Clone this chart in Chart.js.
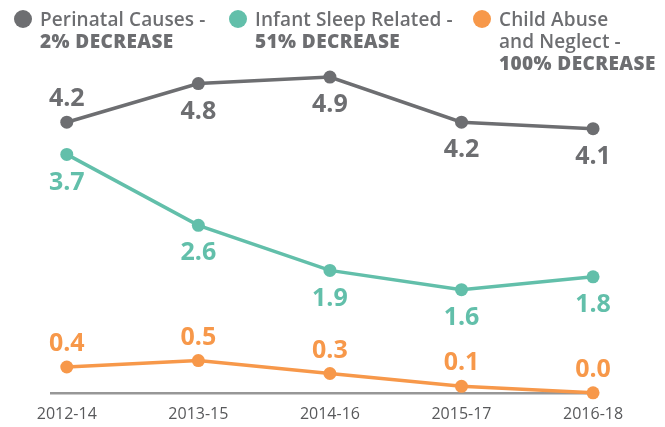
<!DOCTYPE html>
<html>
<head>
<meta charset="utf-8">
<script src="https://cdn.jsdelivr.net/npm/chart.js@4"></script>
<style>
  body { margin: 0; background: #fff; }
  #wrap { position: relative; width: 665px; height: 427px; font-family: "Open Sans", sans-serif; }
  .key { position: absolute; top: 8px; color: #6d6e71; font-size: 19px; font-weight: 600; line-height: 22px; letter-spacing: 0.1px; white-space: nowrap; }
  .key b { font-weight: 800; letter-spacing: 0.4px; }
  .dot { position: absolute; left: -26px; top: 2px; width: 18px; height: 18px; border-radius: 50%; }
</style>
</head>
<body>
<div id="wrap">
  <canvas id="line-chart" width="665" height="427"></canvas>
  <div class="key" style="left:40px"><span class="dot" style="background:#6d6e71"></span>Perinatal Causes -<br><b>2% DECREASE</b></div>
  <div class="key" style="left:255px"><span class="dot" style="background:#62bfaa"></span>Infant Sleep Related -<br><b>51% DECREASE</b></div>
  <div class="key" style="left:499px"><span class="dot" style="background:#f7984a"></span>Child Abuse<br>and Neglect -<br><b>100% DECREASE</b></div>
</div>
<script>
categories = ['2012-14', '2013-15', '2014-16', '2015-17', '2016-18']
perinatal = [4.2, 4.8, 4.9, 4.2, 4.1]
infantSleep = [3.7, 2.6, 1.9, 1.6, 1.8]
childAbuse = [0.4, 0.5, 0.3, 0.1, 0.0]

// where each value label sits relative to its point
perinatalPos = ['above', 'below', 'below', 'below', 'below']
infantSleepPos = ['below', 'below', 'below', 'below', 'below']
childAbusePos = ['above', 'above', 'above', 'above', 'above']

function points(values) {
    return values.map(function (v, i) { return { x: i, y: v } })
}

function serie(values, color, pos) {
    return {
        data: points(values),
        borderColor: color,
        backgroundColor: color,
        pointBackgroundColor: color,
        pointBorderWidth: 0,
        pointRadius: 6.5,
        borderWidth: 3.5,
        tension: 0,
        clip: false,
        labelPos: pos
    }
}

var valueLabels = {
    id: 'valueLabels',
    afterDatasetsDraw: function (chart) {
        var ctx = chart.ctx
        ctx.save()
        ctx.font = '700 25px "Open Sans"'
        ctx.textAlign = 'center'
        ctx.textBaseline = 'middle'
        chart.data.datasets.forEach(function (ds, d) {
            var meta = chart.getDatasetMeta(d)
            meta.data.forEach(function (pt, i) {
                var dy = ds.labelPos[i] == 'above' ? -23 : 28
                ctx.fillStyle = ds.borderColor
                ctx.fillText(ds.data[i].y.toFixed(1), pt.x, pt.y + dy)
            })
        })
        ctx.restore()
    }
}

new Chart(document.getElementById('line-chart'), {
    type: 'line',
    data: {
        datasets: [
            serie(perinatal, '#6d6e71', perinatalPos),
            serie(infantSleep, '#62bfaa', infantSleepPos),
            serie(childAbuse, '#f7984a', childAbusePos)
        ]
    },
    options: {
        responsive: false,
        animation: false,
        devicePixelRatio: 1,
        layout: { padding: { left: 51, right: 68, top: 32, bottom: -9 } },
        plugins: { legend: { display: false }, tooltip: { enabled: false } },
        scales: {
            x: {
                type: 'linear',
                min: -0.12,
                max: 4.03,
                grid: { display: false, drawTicks: false },
                border: { display: true, color: '#979797', width: 2.5 },
                afterBuildTicks: function (scale) {
                    scale.ticks = categories.map(function (c, i) { return { value: i } })
                },
                ticks: {
                    padding: 12,
                    color: '#58595b',
                    font: { family: 'Open Sans', size: 16 },
                    callback: function (v) { return categories[v] }
                }
            },
            y: { display: false, min: 0, max: 5.6 }
        }
    },
    plugins: [valueLabels]
});
</script>
</body>
</html>
